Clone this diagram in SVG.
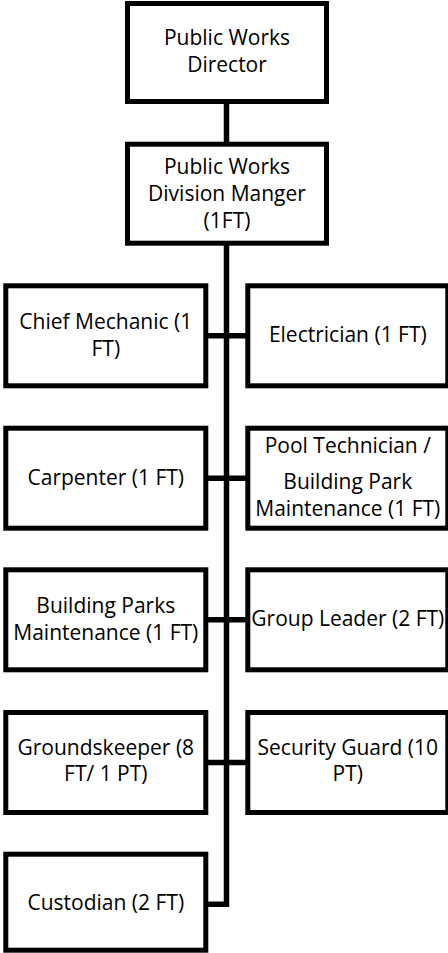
<svg xmlns="http://www.w3.org/2000/svg" width="448" height="953" viewBox="0 0 448 953">
<style>
.box{fill:#fff;stroke:#000;stroke-width:5}
.t{font-family:"Open Sans","Liberation Sans",sans-serif;font-size:21px;fill:#000;text-anchor:middle}
.c{fill:none;stroke:#000;stroke-width:5.5;stroke-linejoin:miter;stroke-linecap:butt}
</style>
<rect width="448" height="953" fill="#fff"/>
<g id="connectors">
<path class="c" d="M226.5,102 V904.2 H206"/>
<path class="c" d="M206,335.8 H248"/>
<path class="c" d="M206,478.2 H248"/>
<path class="c" d="M206,619.8 H248"/>
<path class="c" d="M206,762.5 H248"/>
</g>
<g id="director">
<rect class="box" x="127.5" y="3.5" width="199" height="98"/>
<text class="t" x="227" y="45">Public Works</text>
<text class="t" x="227" y="72">Director</text>
</g>
<g id="manager">
<rect class="box" x="127.5" y="144.2" width="199" height="99"/>
<text class="t" x="227" y="174">Public Works</text>
<text class="t" x="227" y="201">Division Manger</text>
<text class="t" x="227" y="228">(1FT)</text>
</g>
<g id="chief-mechanic">
<rect class="box" x="5.8" y="285.8" width="200" height="100"/>
<text class="t" x="105.8" y="329">Chief Mechanic (1</text>
<text class="t" x="105.8" y="356">FT)</text>
</g>
<g id="electrician">
<rect class="box" x="247.8" y="285.8" width="200" height="100"/>
<text class="t" x="347.8" y="342">Electrician (1 FT)</text>
</g>
<g id="carpenter">
<rect class="box" x="5.8" y="428.2" width="200" height="100"/>
<text class="t" x="105.8" y="485">Carpenter (1 FT)</text>
</g>
<g id="pool-technician">
<rect class="box" x="247.8" y="428.2" width="200" height="100"/>
<text class="t" x="347.8" y="453">Pool Technician /</text>
<text class="t" x="347.8" y="489">Building Park</text>
<text class="t" x="347.8" y="516">Maintenance (1 FT)</text>
</g>
<g id="building-parks">
<rect class="box" x="5.8" y="569.8" width="200" height="100"/>
<text class="t" x="105.8" y="612.5">Building Parks</text>
<text class="t" x="105.8" y="640">Maintenance (1 FT)</text>
</g>
<g id="group-leader">
<rect class="box" x="247.8" y="569.8" width="200" height="100"/>
<text class="t" x="347.8" y="626">Group Leader (2 FT)</text>
</g>
<g id="groundskeeper">
<rect class="box" x="5.8" y="712.5" width="200" height="100"/>
<text class="t" x="105.8" y="755">Groundskeeper (8</text>
<text class="t" x="105.8" y="781">FT/ 1 PT)</text>
</g>
<g id="security-guard">
<rect class="box" x="247.8" y="712.5" width="200" height="100"/>
<text class="t" x="347.8" y="755">Security Guard (10</text>
<text class="t" x="347.8" y="781">PT)</text>
</g>
<g id="custodian">
<rect class="box" x="5.8" y="854.2" width="200" height="96"/>
<text class="t" x="105.8" y="910">Custodian (2 FT)</text>
</g>
</svg>
